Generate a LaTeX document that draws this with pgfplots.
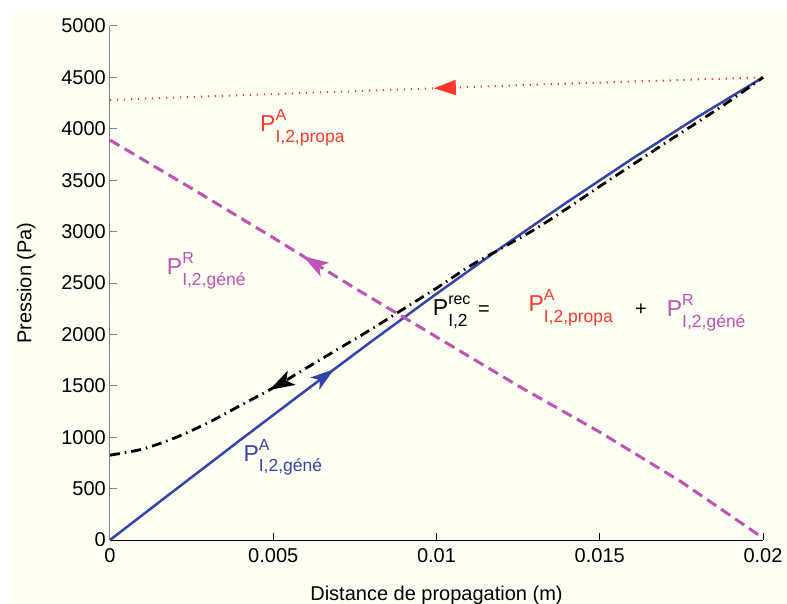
\documentclass[border=0pt]{standalone}
\usepackage{pgfplots}
\pgfplotsset{compat=1.18}
\usepackage{fontspec}
\setmainfont{Liberation Sans}
\usetikzlibrary{arrows.meta,decorations.markings}
\definecolor{bg}{RGB}{255,255,243}
\definecolor{cblue}{RGB}{52,68,170}
\definecolor{cred}{RGB}{255,55,45}
\definecolor{cmag}{RGB}{190,82,182}
\newcommand{\PP}[2]{{\fontsize{23bp}{23bp}\selectfont P}\rlap{\raisebox{11bp}{\fontsize{16bp}{16bp}\selectfont #1}}\raisebox{-10.5bp}{\fontsize{17.5bp}{18bp}\selectfont #2}}
\begin{document}
\begin{tikzpicture}
\useasboundingbox (-110bp,-64bp) rectangle (677bp,540bp);
\fill[white] (-110bp,-64bp) rectangle (677bp,540bp);
\fill[bg] (-103bp,-64bp) rectangle (677bp,531bp);
\begin{axis}[
  at={(0,0)}, anchor=south west,
  scale only axis, width=653bp, height=514bp,
  xmin=0, xmax=0.02, ymin=0, ymax=5000,
  axis x line=bottom, axis y line=left,
  axis line style={-},
  x axis line style={black, line width=1bp},
  y axis line style={gray, line width=1bp},
  scaled x ticks=false, scaled y ticks=false,
  xtick={0,0.005,0.01,0.015,0.02},
  xticklabels={0,0.005,0.01,0.015,0.02},
  ytick={0,500,1000,1500,2000,2500,3000,3500,4000,4500,5000},
  yticklabels={0,500,1000,1500,2000,2500,3000,3500,4000,4500,5000},
  tick align=inside,
  major tick length=7bp,
  xtick style={black, line width=1bp},
  ytick style={gray, line width=1bp},
  /pgf/number format/assume math mode=true,
  ticklabel style={font=\fontsize{20bp}{24bp}\selectfont},
  xticklabel style={inner sep=0pt, yshift=-8bp},
  yticklabel style={inner sep=0pt, xshift=-4bp},
  xlabel={Distance de propagation (m)},
  ylabel={Pression (Pa)},
  label style={font=\fontsize{20bp}{24bp}\selectfont},
  xlabel style={at={(axis description cs:0.5,0)}, anchor=base, yshift=-60bp, inner sep=0pt},
  ylabel style={at={(axis description cs:0,0.5)}, anchor=base, yshift=78.5bp, inner sep=0pt},
  clip=false,
]
% blue
\addplot[cblue, line width=2.5bp, postaction={decorate},
  decoration={markings, mark=at position 0.352 with {\arrow{Stealth[length=24bp,width=15bp,inset=6bp]}}}]
  coordinates {(0,0) (0.002,489) (0.004,975) (0.006,1456) (0.008,1930) (0.010,2395) (0.012,2848) (0.014,3287) (0.016,3710) (0.018,4115) (0.020,4500)};
% magenta
\addplot[cmag, line width=3bp, dash pattern=on 11bp off 6bp, postaction={decorate},
  decoration={markings, mark=at position 0.295 with {\arrowreversed{Stealth[length=25bp,width=16bp,inset=6bp]}}}]
  coordinates {(0,3890) (0.0025,3420) (0.005,2940) (0.0075,2450) (0.01,1975) (0.0125,1500) (0.015,1050) (0.0175,565) (0.02,20)};
% red
\addplot[cred, line width=2bp, dash pattern=on 1.2bp off 5.8bp, postaction={decorate},
  decoration={markings, mark=at position 0.496 with {\arrowreversed{Triangle[length=22bp,width=15bp]}}}]
  coordinates {(0,4280) (0.005,4338) (0.01,4395) (0.015,4450) (0.02,4500)};
% black
\addplot[black, line width=2.8bp, dash pattern=on 10bp off 5bp on 1.5bp off 5bp, smooth, postaction={decorate},
  decoration={markings, mark=at position 0.229 with {\arrowreversed{Stealth[length=25bp,width=16bp,inset=6bp]}}}]
  coordinates {(0,825) (0.001,885) (0.002,995) (0.003,1140) (0.004,1310) (0.005,1480) (0.006,1670) (0.007,1860) (0.008,2050) (0.009,2250) (0.010,2450) (0.011,2660) (0.012,2840) (0.013,3020) (0.014,3225) (0.015,3440) (0.016,3650) (0.017,3860) (0.018,4065) (0.019,4275) (0.020,4500)};
% labels
\node[anchor=base west, inner sep=0pt, text=cred] at (axis cs:0.004594,3972) {\PP{A}{I,2,propa}};
\node[anchor=base west, inner sep=0pt, text=cmag] at (axis cs:0.001737,2578) {\PP{R}{I,2,géné}};
\node[anchor=base west, inner sep=0pt, text=cblue] at (axis cs:0.004084,768) {\PP{A}{I,2,géné}};
\node[anchor=base west, inner sep=0pt, text=black] at (axis cs:0.009884,2179) {\PP{rec}{I,2}};
\node[anchor=base west, inner sep=0pt, text=black, font=\fontsize{20bp}{24bp}\selectfont] at (axis cs:0.01127,2179) {=};
\node[anchor=base west, inner sep=0pt, text=cred] at (axis cs:0.012812,2221) {\PP{A}{I,2,propa}};
\node[anchor=base west, inner sep=0pt, text=black, font=\fontsize{20bp}{24bp}\selectfont] at (axis cs:0.01608,2179) {+};
\node[anchor=base west, inner sep=0pt, text=cmag] at (axis cs:0.01705,2172) {\PP{R}{I,2,géné}};
\end{axis}
\end{tikzpicture}
\end{document}
